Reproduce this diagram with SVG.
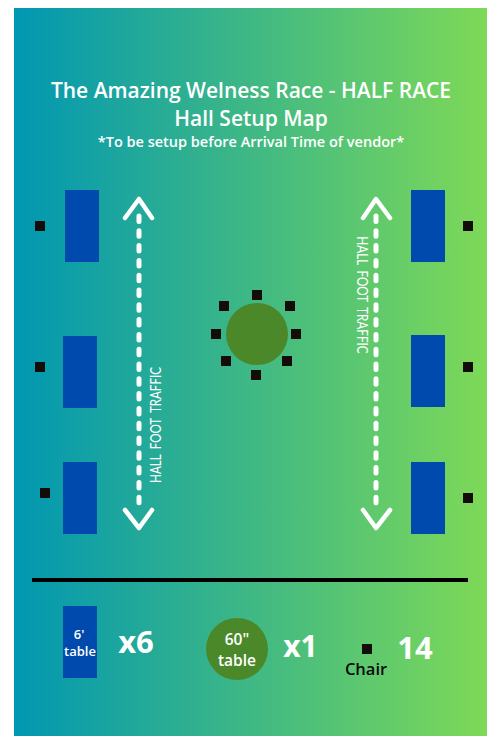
<svg xmlns="http://www.w3.org/2000/svg" width="487" height="736" viewBox="0 0 487 736">
<defs>
<linearGradient id="bg" x1="0" y1="0" x2="1" y2="0"><stop offset="0" stop-color="#0097b2"/><stop offset="1" stop-color="#7ed957"/></linearGradient>
<rect id="chair" x="-5" y="-5" width="10" height="10" fill="#140c08"/>
<rect id="tb" width="34" height="72" fill="#004aad"/>
</defs>
<style>
text{font-family:"Open Sans","Noto Sans","Liberation Sans",sans-serif;text-anchor:middle;fill:#fff}
.s{font-weight:600}
.b{font-weight:700}
.chev{fill:none;stroke:#fff;stroke-width:4.5;stroke-linecap:round;stroke-linejoin:round}
.dash{fill:none;stroke:#fff;stroke-width:5;stroke-linecap:round;stroke-dasharray:5.5 9.3}
.tr{font-family:"Lato","Liberation Sans",sans-serif;font-size:14.5px;font-weight:400;word-spacing:3px}
</style>
<rect width="487" height="736" fill="#fff"/>
<rect x="14" y="8" width="473" height="728" fill="url(#bg)"/>
<g id="title">
<text class="s" x="251" y="98" font-size="21">The Amazing Welness Race - HALF RACE</text>
<text class="s" x="251" y="126" font-size="21">Hall Setup Map</text>
<text class="s" x="251" y="147" font-size="14.5">*To be setup before Arrival Time of vendor*</text>
</g>
<g id="connectors">
<g id="traffic-left">
<path class="dash" d="M139 216V507"/>
<path class="chev" d="M125 218L139 199L152 218M125 510L139 528L152 510"/>
</g>
<g id="traffic-right">
<path class="dash" d="M376 216V507"/>
<path class="chev" d="M363 218L376 199L390 218M363 510L376 528L390 510"/>
</g>
</g>
<text class="tr" transform="translate(161 425) rotate(-90) scale(0.8 1)">HALL FOOT TRAFFIC</text>
<text class="tr" transform="translate(357 295) rotate(90) scale(0.81 1)">HALL FOOT TRAFFIC</text>
<g id="tables-left"><use href="#tb" x="65" y="190"/><use href="#tb" x="63" y="336"/><use href="#tb" x="63" y="462"/></g>
<g id="tables-right"><use href="#tb" x="411" y="190"/><use href="#tb" x="411" y="335"/><use href="#tb" x="411" y="462"/></g>
<g id="chairs-side"><use href="#chair" x="40" y="226"/><use href="#chair" x="40" y="367"/><use href="#chair" x="45" y="493"/><use href="#chair" x="468" y="226"/><use href="#chair" x="468" y="367"/><use href="#chair" x="468" y="498"/></g>
<g id="round-table">
<circle cx="257" cy="334" r="31" fill="#4a8829"/>
<use href="#chair" x="224" y="306"/><use href="#chair" x="257" y="295"/><use href="#chair" x="290" y="306"/><use href="#chair" x="216" y="334"/><use href="#chair" x="296" y="334"/><use href="#chair" x="226" y="361"/><use href="#chair" x="287" y="361"/><use href="#chair" x="256" y="375"/>
</g>
<rect id="divider" x="32" y="578" width="436" height="4" fill="#000"/>
<g id="legend-table">
<use href="#tb" x="63" y="606"/>
<text class="s" x="79" y="639" font-size="13">6'</text>
<text class="s" x="80" y="656" font-size="13">table</text>
<text class="b" x="136" y="653" font-size="31">x6</text>
</g>
<g id="legend-round">
<circle cx="237" cy="649" r="31" fill="#4a8829"/>
<text class="s" x="237" y="645" font-size="15.5">60"</text>
<text class="s" x="237" y="666" font-size="15.5">table</text>
<text class="b" x="300.5" y="657" font-size="30">x1</text>
</g>
<g id="legend-chair">
<use href="#chair" x="367" y="649"/>
<text class="s" x="366" y="675" font-size="16.5" style="fill:#0a0a0a">Chair</text>
<text class="b" x="415" y="659" font-size="31">14</text>
</g>
</svg>
